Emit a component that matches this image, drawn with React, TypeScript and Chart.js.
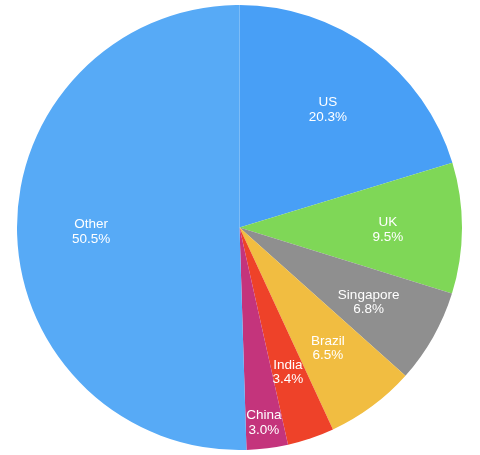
import React, { useEffect, useRef } from "react";
import { Chart, registerables } from "chart.js";

Chart.register(...registerables);

const categories = ["US", "UK", "Singapore", "Brazil", "India", "China", "Other"];
const shares = [20.3, 9.5, 6.8, 6.5, 3.4, 3.0, 50.5];
const colors = ["#489ff6", "#7fd757", "#8f8f8f", "#f1bd41", "#ee4229", "#c4347c", "#57aaf6"];

const labelPlugin = {
  id: "sliceLabels",
  afterDatasetsDraw(chart: any) {
    const ctx = chart.ctx;
    const meta = chart.getDatasetMeta(0);
    ctx.save();
    ctx.fillStyle = "#ffffff";
    ctx.font = '13.5px "Liberation Sans", Arial, sans-serif';
    ctx.textAlign = "center";
    ctx.textBaseline = "middle";
    meta.data.forEach((arc: any, i: number) => {
      const p = arc.getProps(["x", "y", "startAngle", "endAngle", "outerRadius"], true);
      const span = p.endAngle - p.startAngle;
      const mid = (p.startAngle + p.endAngle) / 2;
      const l1 = categories[i];
      const l2 = shares[i].toFixed(1) + "%";
      const w = Math.max(ctx.measureText(l1).width, ctx.measureText(l2).width);
      let r = p.outerRadius * 0.667;
      const need = (w + 1.5) / span;
      if (need > r) r = Math.min(need, p.outerRadius * 0.9);
      const x = p.x + Math.cos(mid) * r;
      const y = p.y + Math.sin(mid) * r;
      ctx.fillText(l1, x, y - 5.5);
      ctx.fillText(l2, x, y + 9);
    });
    ctx.restore();
  },
};

export default function App() {
  const ref = useRef<HTMLCanvasElement>(null);
  useEffect(() => {
    if (!ref.current) return;
    const chart = new Chart(ref.current, {
      type: "pie",
      data: {
        labels: categories,
        datasets: [
          {
            data: shares,
            backgroundColor: colors,
            borderWidth: 0,
          },
        ],
      },
      options: {
        animation: false,
        responsive: true,
        maintainAspectRatio: false,
        layout: { padding: 0 },
        plugins: {
          legend: { display: false },
          tooltip: { enabled: false },
        },
      },
      plugins: [labelPlugin],
    });
    return () => chart.destroy();
  }, []);
  return (
    <div style={{ position: "fixed", left: 17, top: 5, width: 445, height: 445 }}>
      <canvas ref={ref} />
    </div>
  );
}
